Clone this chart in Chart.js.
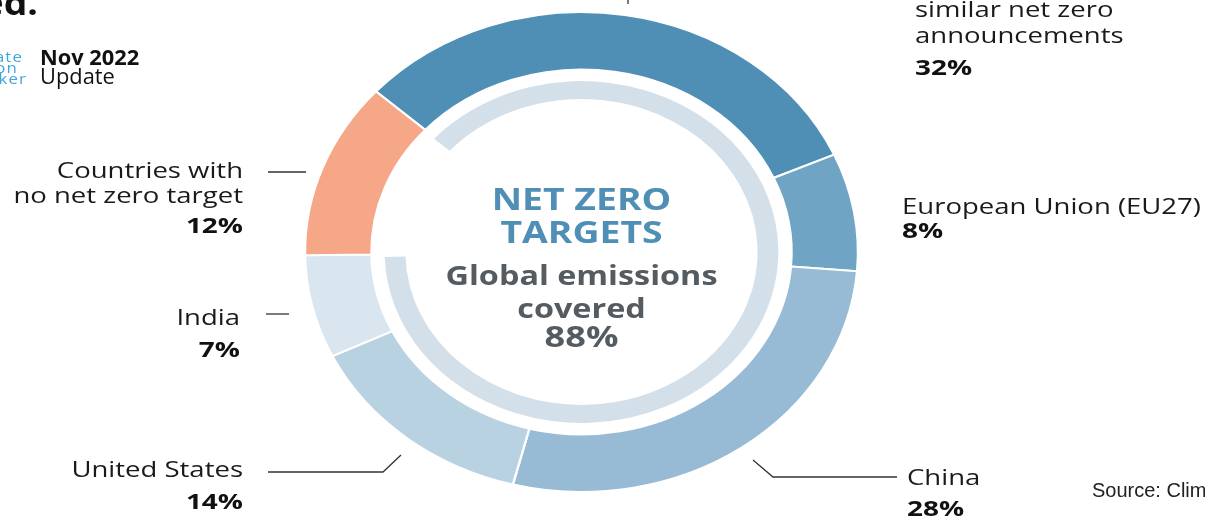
<!DOCTYPE html>
<html>
<head>
<meta charset="utf-8">
<script src="https://cdn.jsdelivr.net/npm/chart.js@4.4.0/dist/chart.umd.min.js"></script>
<style>
html,body{margin:0;padding:0;background:#fff;overflow:hidden}
#wrap{position:relative;width:1205px;height:518px}
</style>
</head>
<body>
<div id="wrap"><canvas id="c"></canvas></div>
<script>
// ---------- data ----------
const categories = [
  "Other countries with\nsimilar net zero\nannouncements",
  "European Union (EU27)",
  "China",
  "United States",
  "India",
  "Countries with\nno net zero target"
];
const shares = [32, 8, 28, 14, 7, 12];
const coveredShare = [88, 12];          // covered / not covered
const centerTitle = ["NET ZERO", "TARGETS"];
const centerSub = ["Global emissions", "covered"];

// ---------- styles / layout ----------
const segmentColors = ["#4f8fb6", "#70a4c5", "#97bbd4", "#b9d2e2", "#d9e6ef", "#f6a788"];
const coveredColors = ["#d3e0e9", "rgba(0,0,0,0)"];
const FONT = "'Open Sans', 'Noto Sans', sans-serif";
const xStretch = 1.152;   // reference ring is slightly elliptical
const textStretch = 1.25; // reference lettering is wide

const labelLayout = [
  { x: 915, align: "left",  base: [-9, 17, 43], pct: 75 },
  { x: 902, align: "left",  base: [214], pct: 238 },
  { x: 907, align: "left",  base: [485], pct: 516 },
  { x: 243, align: "right", base: [477], pct: 509 },
  { x: 240, align: "right", base: [325], pct: 357 },
  { x: 243, align: "right", base: [178, 203], pct: 233 }
];
const leaderLines = [
  [[628, -2], [628, 4]],
  null,
  [[753, 460], [773, 477], [897, 477]],
  [[268, 472], [383, 472], [401, 455]],
  [[266, 314], [289, 314]],
  [[268, 172], [306, 172]]
];

function drawText(ctx, text, x, y, align, font, color, stretch, spacing) {
  ctx.save();
  ctx.translate(x, y);
  ctx.scale(stretch, 1);
  ctx.textAlign = align;
  ctx.textBaseline = "alphabetic";
  ctx.font = font;
  ctx.fillStyle = color;
  if ("letterSpacing" in ctx) ctx.letterSpacing = (spacing || 0) + "px";
  ctx.fillText(text, 0, 0);
  ctx.restore();
}

const stretchPlugin = {
  id: "stretch",
  beforeDatasetsDraw(chart) {
    const el = chart.getDatasetMeta(0).data[0];
    const ctx = chart.ctx;
    ctx.save();
    ctx.translate(el.x, el.y);
    ctx.scale(xStretch, 1);
    ctx.translate(-el.x, -el.y);
  },
  afterDatasetsDraw(chart) {
    chart.ctx.restore();
  }
};

const textPlugin = {
  id: "texts",
  afterDraw(chart) {
    const ctx = chart.ctx;
    const el = chart.getDatasetMeta(0).data[0];
    const cx = el.x;

    // leader lines
    ctx.save();
    ctx.strokeStyle = "#333";
    ctx.lineWidth = 1.3;
    leaderLines.forEach(pts => {
      if (!pts) return;
      ctx.beginPath();
      pts.forEach((p, i) => i ? ctx.lineTo(p[0], p[1]) : ctx.moveTo(p[0], p[1]));
      ctx.stroke();
    });
    ctx.restore();

    // segment labels
    categories.forEach((name, i) => {
      const L = labelLayout[i];
      name.split("\n").forEach((line, j) =>
        drawText(ctx, line, L.x, L.base[j], L.align, "22px " + FONT, "#1a1a1a", textStretch));
      drawText(ctx, shares[i] + "%", L.x, L.pct, L.align, "bold 22px " + FONT, "#111", 1.27);
    });

    // centre text
    drawText(ctx, centerTitle[0], cx, 210, "center", "bold 30px " + FONT, "#4f8fb6", 1.245);
    drawText(ctx, centerTitle[1], cx, 243, "center", "bold 30px " + FONT, "#4f8fb6", 1.245);
    drawText(ctx, centerSub[0], cx, 285, "center", "bold 26px " + FONT, "#545c61", 1.245);
    drawText(ctx, centerSub[1], cx, 318, "center", "bold 26px " + FONT, "#545c61", 1.245);
    drawText(ctx, coveredShare[0] + "%", cx, 347, "center", "bold 29px " + FONT, "#545c61", 1.245);

    // header fragments
    drawText(ctx, "ed.", 38, 15, "right", "bold 34px " + FONT, "#111", 1.1);
    drawText(ctx, "Climate", 23, 62, "right", "15px " + FONT, "#41a7d9", 1.12, 1);
    drawText(ctx, "Action", 18, 73, "right", "15px " + FONT, "#41a7d9", 1.12, 1);
    drawText(ctx, "Tracker", 27, 84, "right", "15px " + FONT, "#41a7d9", 1.12, 1);
    drawText(ctx, "Nov 2022", 40, 65, "left", "bold 21px " + FONT, "#111", 1.04);
    drawText(ctx, "Update", 40, 84, "left", "21px " + FONT, "#111", 1.04);
    drawText(ctx, "Source: Climate Action Tracker", 1092, 497, "left",
      "20px 'Liberation Sans', Arial, sans-serif", "#222", 1);
  }
};

const sumCovered = coveredShare.reduce((a, b) => a + b, 0);

new Chart(document.getElementById("c"), {
  type: "doughnut",
  data: {
    labels: categories,
    datasets: [
      { data: shares, backgroundColor: segmentColors, borderColor: "#ffffff", borderWidth: 2, weight: 0.24, rotation: -48 },
      { data: [sumCovered], backgroundColor: ["rgba(0,0,0,0)"], borderWidth: 0, weight: 0.048 },
      { data: coveredShare, backgroundColor: coveredColors, borderWidth: 0, weight: 0.075, rotation: -48.5 }
    ]
  },
  options: {
    responsive: true,
    maintainAspectRatio: false,
    animation: false,
    radius: 240,
    cutout: "63.7%",
    layout: { padding: { top: 12, bottom: 26, left: 300, right: 342 } },
    plugins: { legend: { display: false }, tooltip: { enabled: false } },
    events: []
  },
  plugins: [stretchPlugin, textPlugin]
});
</script>
</body>
</html>
